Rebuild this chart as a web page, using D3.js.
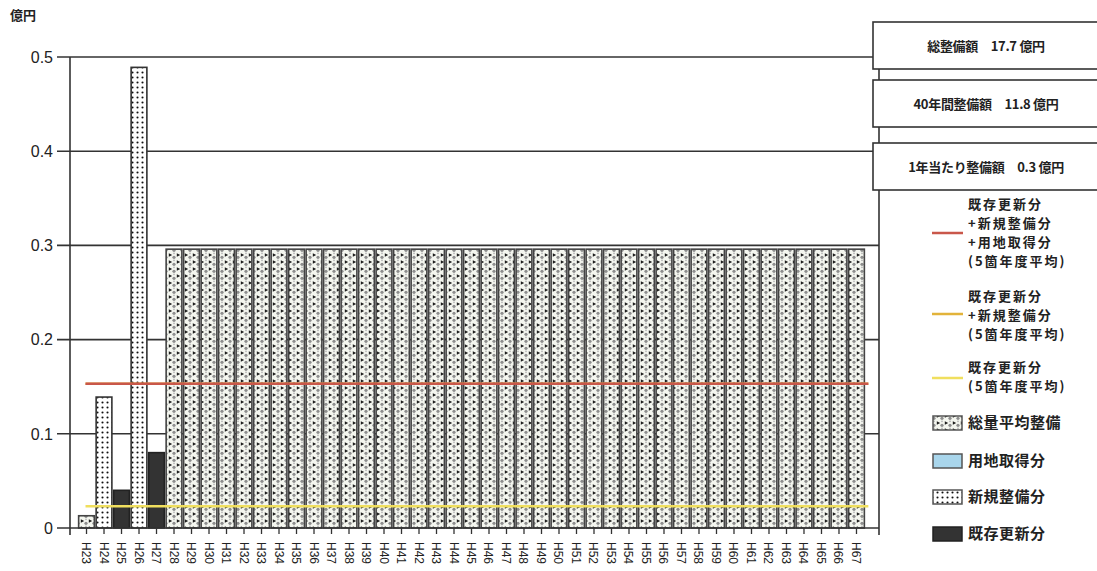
<!DOCTYPE html>
<html><head><meta charset="utf-8">
<script src="https://cdn.jsdelivr.net/npm/d3@7"></script>
<style>
html,body{margin:0;padding:0;background:#fff;}
svg{display:block;}
text{font-family:"Liberation Sans",Arial,sans-serif;fill:#222;}
.jp{font-family:"Noto Sans CJK JP","Noto Sans",sans-serif;font-weight:700;}
</style></head>
<body>
<svg id="chart" width="1097" height="571"></svg>
<script>
const categories = ["H23","H24","H25","H26","H27","H28","H29","H30","H31","H32","H33","H34","H35","H36","H37","H38","H39","H40","H41","H42","H43","H44","H45","H46","H47","H48","H49","H50","H51","H52","H53","H54","H55","H56","H57","H58","H59","H60","H61","H62","H63","H64","H65","H66","H67"];
// 既存更新分
const existingRenewal = [0,0,0.040,0,0.080,0,0,0,0,0,0,0,0,0,0,0,0,0,0,0,0,0,0,0,0,0,0,0,0,0,0,0,0,0,0,0,0,0,0,0,0,0,0,0,0];
// 用地取得分
const landAcquisition = [0,0,0,0,0,0,0,0,0,0,0,0,0,0,0,0,0,0,0,0,0,0,0,0,0,0,0,0,0,0,0,0,0,0,0,0,0,0,0,0,0,0,0,0,0];
// 新規整備分
const newDevelopment = [0,0.139,0,0.489,0,0,0,0,0,0,0,0,0,0,0,0,0,0,0,0,0,0,0,0,0,0,0,0,0,0,0,0,0,0,0,0,0,0,0,0,0,0,0,0,0];
// 総量平均整備
const averageDevelopment = [0.013,0,0,0,0,0.296,0.296,0.296,0.296,0.296,0.296,0.296,0.296,0.296,0.296,0.296,0.296,0.296,0.296,0.296,0.296,0.296,0.296,0.296,0.296,0.296,0.296,0.296,0.296,0.296,0.296,0.296,0.296,0.296,0.296,0.296,0.296,0.296,0.296,0.296,0.296,0.296,0.296,0.296,0.296];
// 5箇年度平均 lines
const avgAll = 0.153;      // 既存更新分+新規整備分+用地取得分
const avgExistNew = 0.153; // 既存更新分+新規整備分
const avgExist = 0.023;    // 既存更新分
const yTicks = [0,0.1,0.2,0.3,0.4,0.5];
const summaryLabels = ["総整備額　17.7 億円","40年間整備額　11.8 億円","1年当たり整備額　0.3 億円"];

const svg = d3.select("#chart");
const defs = svg.append("defs");
// patterns
const pNew = defs.append("pattern").attr("id","pNew").attr("patternUnits","userSpaceOnUse").attr("width",5).attr("height",5);
pNew.append("rect").attr("width",5).attr("height",5).attr("fill","#fff");
pNew.append("circle").attr("cx",2.5).attr("cy",2.5).attr("r",1.05).attr("fill","#111");
const pAvg = defs.append("pattern").attr("id","pAvg").attr("patternUnits","userSpaceOnUse").attr("width",8).attr("height",7);
pAvg.append("rect").attr("width",8).attr("height",7).attr("fill","#f4f6ef");
pAvg.append("path").attr("d","M0.8,1.2 L4.2,3 L0.8,4.8 Z").attr("fill","#1c1c1c");
pAvg.append("circle").attr("cx",6).attr("cy",5.3).attr("r",1.6).attr("fill","#8e8e8e");
pAvg.append("circle").attr("cx",6).attr("cy",1.3).attr("r",0.9).attr("fill","#b5b5b5");

const x = d3.scaleBand().domain(categories).range([67,876]).paddingInner(0.1).paddingOuter(0.665);
const y = d3.scaleLinear().domain([0,0.5]).range([528,57]);
const left = 70, right = 879;

// gridlines
svg.append("g").selectAll("line").data(yTicks.filter(d=>d>0)).join("line")
  .attr("x1",57).attr("x2",right).attr("y1",d=>y(d)).attr("y2",d=>y(d))
  .attr("stroke","#333").attr("stroke-width",1.6);

// stacked bars
const rows = categories.map((c,i)=>({cat:c, existing:existingRenewal[i], land:landAcquisition[i], newDev:newDevelopment[i], avg:averageDevelopment[i]}));
const keys = ["existing","land","newDev","avg"];
const fills = {existing:"#333", land:"#a9d6ec", newDev:"url(#pNew)", avg:"url(#pAvg)"};
const strokes = {existing:"#222", land:"#555", newDev:"#333", avg:"#444"};
const stack = d3.stack().keys(keys)(rows);
svg.append("g").selectAll("g").data(stack).join("g")
  .attr("fill",d=>fills[d.key]).attr("stroke",d=>strokes[d.key]).attr("stroke-width",1.6)
  .selectAll("rect").data(d=>d.filter(s=>s[1]-s[0]>0)).join("rect")
  .attr("x",d=>x(d.data.cat)).attr("width",x.bandwidth())
  .attr("y",d=>y(d[1])).attr("height",d=>y(d[0])-y(d[1]));

// average lines
const x1 = x(categories[0]) + x.bandwidth()/2 - 1;
const x2 = x(categories[categories.length-1]) + x.bandwidth() + 4;
[[avgExistNew,"#e2b33a"],[avgAll,"#c9574a"],[avgExist,"#f0df5e"]].forEach(([v,c])=>{
  svg.append("line").attr("x1",x1).attr("x2",x2).attr("y1",y(v)).attr("y2",y(v))
    .attr("stroke",c).attr("stroke-width",2.5);
});

// axes frame
svg.append("line").attr("x1",left).attr("x2",left).attr("y1",y(0.5)).attr("y2",535).attr("stroke","#333").attr("stroke-width",1.6);
svg.append("line").attr("x1",right).attr("x2",right).attr("y1",y(0.5)).attr("y2",535).attr("stroke","#333").attr("stroke-width",1.6);
svg.append("line").attr("x1",57).attr("x2",right).attr("y1",y(0)).attr("y2",y(0)).attr("stroke","#333").attr("stroke-width",1.6);

// y axis labels
svg.append("g").selectAll("text").data(yTicks).join("text")
  .attr("x",53).attr("y",d=>y(d)).attr("dy","0.36em").attr("text-anchor","end")
  .attr("font-size",16).text(d=>d===0?"0":d3.format(".1f")(d));
svg.append("text").attr("class","jp").attr("x",10).attr("y",20).attr("font-size",13).text("億円");

// x ticks and labels
const xg = svg.append("g");
xg.selectAll("line").data(categories).join("line")
  .attr("x1",d=>x(d)+x.bandwidth()/2).attr("x2",d=>x(d)+x.bandwidth()/2)
  .attr("y1",y(0)).attr("y2",y(0)+6).attr("stroke","#333").attr("stroke-width",1.3);
xg.selectAll("text").data(categories).join("text")
  .attr("transform",d=>`translate(${x(d)+x.bandwidth()/2-4.5},542) rotate(90)`)
  .attr("font-size",12).attr("text-anchor","start").text(d=>d);

// summary boxes
const boxY = [22,80,143];
summaryLabels.forEach((t,i)=>{
  svg.append("rect").attr("x",873).attr("y",boxY[i]).attr("width",240).attr("height",47)
    .attr("fill","#fff").attr("stroke","#333").attr("stroke-width",1.6);
  svg.append("text").attr("class","jp").attr("x",986).attr("y",boxY[i]+24).attr("dy","0.35em")
    .attr("text-anchor","middle").attr("font-size",13).attr("letter-spacing",-0.3).text(t);
});

// legend
const lg = svg.append("g");
const lineLegend = [
  {c:"#c9574a", ly:233, lines:["既存更新分","+新規整備分","+用地取得分","(5箇年度平均)"], ty:204.5},
  {c:"#e2b33a", ly:314, lines:["既存更新分","+新規整備分","(5箇年度平均)"], ty:296},
  {c:"#f0df5e", ly:378, lines:["既存更新分","(5箇年度平均)"], ty:367}
];
lineLegend.forEach(l=>{
  lg.append("line").attr("x1",932).attr("x2",963).attr("y1",l.ly).attr("y2",l.ly).attr("stroke",l.c).attr("stroke-width",2.5);
  l.lines.forEach((s,j)=>{
    lg.append("text").attr("class","jp").attr("x",968).attr("y",l.ty+j*19).attr("dy","0.35em")
      .attr("font-size",13).attr("letter-spacing",2).text(s);
  });
});
const patchLegend = [
  {f:"url(#pAvg)", s:"#555", t:"総量平均整備", y:423},
  {f:"#a9d6ec", s:"#555", t:"用地取得分", y:461},
  {f:"url(#pNew)", s:"#555", t:"新規整備分", y:497},
  {f:"#333", s:"#222", t:"既存更新分", y:534}
];
patchLegend.forEach(p=>{
  lg.append("rect").attr("x",933).attr("y",p.y-7).attr("width",29).attr("height",14)
    .attr("fill",p.f).attr("stroke",p.s).attr("stroke-width",1.5);
  lg.append("text").attr("class","jp").attr("x",968).attr("y",p.y).attr("dy","0.35em")
    .attr("font-size",15).attr("letter-spacing",0.5).text(p.t);
});
</script>
</body></html>
